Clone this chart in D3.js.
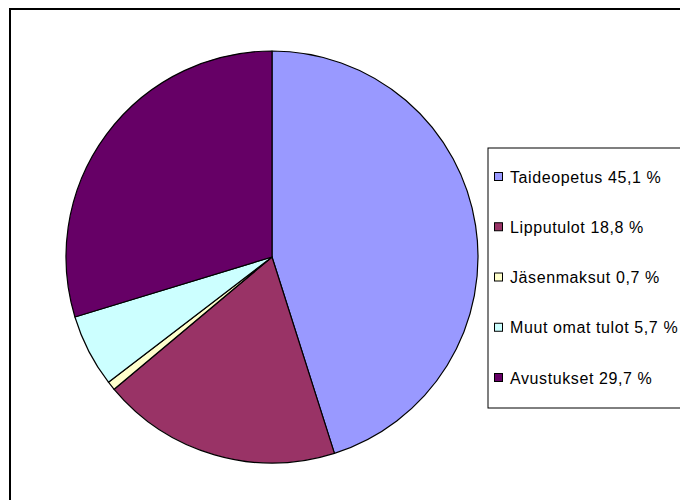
<!DOCTYPE html>
<html>
<head>
<meta charset="utf-8">
<script src="https://cdn.jsdelivr.net/npm/d3@7"></script>
<style>
  body { margin: 0; background: #fff; }
  svg { display: block; }
</style>
</head>
<body>
<svg id="chart"></svg>
<script>
// data
const categories = ["Taideopetus", "Lipputulot", "Jäsenmaksut", "Muut omat tulot", "Avustukset"];
const values = [45.1, 18.8, 0.7, 5.7, 29.7];
const labels = ["Taideopetus 45,1 %", "Lipputulot 18,8 %", "Jäsenmaksut 0,7 %", "Muut omat tulot 5,7 %", "Avustukset 29,7 %"];
const colors = ["#9999ff", "#993366", "#ffffcc", "#ccffff", "#660066"];

const width = 680, height = 500;
const svg = d3.select("#chart").attr("width", width).attr("height", height);

// outer chart frame (right and bottom edges fall outside the window)
svg.append("rect")
  .attr("x", 10).attr("y", 9)
  .attr("width", 720).attr("height", 540)
  .attr("fill", "#fff")
  .attr("stroke", "#000")
  .attr("stroke-width", 2);

const data = categories.map((c, i) => ({ name: c, value: values[i], label: labels[i] }));

const cx = 272, cy = 257, r = 206;
const pie = d3.pie().sort(null).value(d => d.value);
const arc = d3.arc().innerRadius(0).outerRadius(r);

const color = d3.scaleOrdinal().domain(categories).range(colors);

svg.append("g")
  .attr("transform", `translate(${cx},${cy})`)
  .selectAll("path")
  .data(pie(data))
  .enter()
  .append("path")
  .attr("d", arc)
  .attr("fill", d => color(d.data.name))
  .attr("stroke", "#000")
  .attr("stroke-width", 1.2)
  .attr("stroke-linejoin", "round");

// legend
const legend = svg.append("g");
legend.append("rect")
  .attr("x", 488).attr("y", 148)
  .attr("width", 260).attr("height", 260)
  .attr("fill", "#fff")
  .attr("stroke", "#000")
  .attr("stroke-width", 1);

const rowY = d3.scalePoint().domain(categories).range([177, 378]);

const rows = legend.selectAll("g.row")
  .data(data)
  .enter()
  .append("g")
  .attr("class", "row")
  .attr("transform", d => `translate(494, ${rowY(d.name)})`);

rows.append("rect")
  .attr("x", 0.5).attr("y", -4.5)
  .attr("width", 8).attr("height", 8)
  .attr("fill", d => color(d.name))
  .attr("stroke", "#000")
  .attr("stroke-width", 1);

rows.append("text")
  .attr("x", 16)
  .attr("y", 5.5)
  .attr("font-family", "Liberation Sans, Arial, sans-serif")
  .attr("font-size", "16px")
  .attr("letter-spacing", "0.6px")
  .attr("fill", "#000")
  .text(d => d.label);
</script>
</body>
</html>
